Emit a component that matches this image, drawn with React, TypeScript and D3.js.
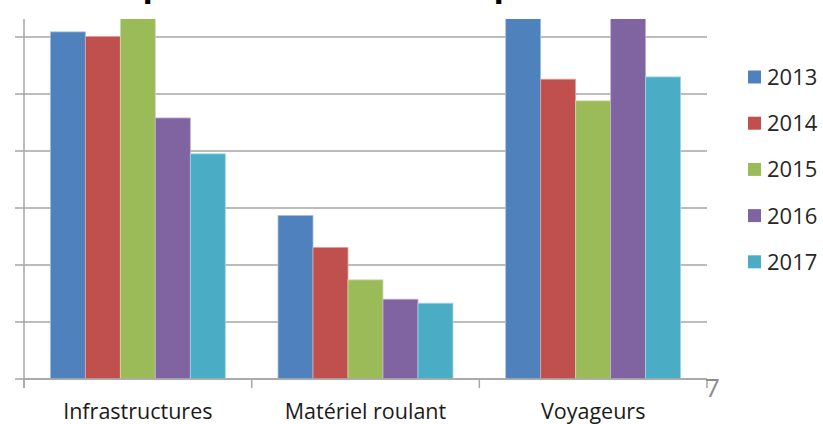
import React from "react";
import * as d3 from "d3";

const categories = ["Infrastructures", "Matériel roulant", "Voyageurs"];
const years = ["2013", "2014", "2015", "2016", "2017"];
// one array per year, in category order (units = one gridline)
const values2013 = [6.09, 2.87, 7.0];
const values2014 = [6.01, 2.31, 5.26];
const values2015 = [6.6, 1.74, 4.88];
const values2016 = [4.58, 1.4, 7.0];
const values2017 = [3.95, 1.33, 5.3];
const gridTicks = [0, 1, 2, 3, 4, 5, 6];

const seriesValues = [values2013, values2014, values2015, values2016, values2017];
const colors = ["#4F81BD", "#C0504D", "#9BBB59", "#8064A2", "#4BACC6"];
const borders = ["#a7c0de", "#dfa8a6", "#cddcac", "#bfb1d0", "#a5d5e2"];

const W = 823;
const H = 424;
const left = 24;
const right = 707;
const base = 379;
const top = 19;
const font = "Open Sans, sans-serif";

export default function App() {
  const x0 = d3.scaleBand<string>().domain(categories).range([left, right]);
  const x1 = d3
    .scaleBand<string>()
    .domain(years)
    .range([0, x0.bandwidth()])
    .paddingOuter(0.753);
  const y = d3.scaleLinear().domain([0, 6]).range([base, 37]);

  const catEdges = categories.map((c) => x0(c) ?? 0).concat([right]);

  return (
    <div style={{ position: "fixed", left: 0, top: 0 }}>
      <svg width={W} height={H} style={{ display: "block", background: "#fff" }}>
        <defs>
          <clipPath id="plot-clip">
            <rect x={left} y={top} width={right - left} height={base - top + 1} />
          </clipPath>
        </defs>

        {/* title, cut off above the picture: only descenders peek in */}
        <text
          x={89}
          y={-4}
          fontFamily={font}
          fontWeight="bold"
          fontSize={34}
          letterSpacing={4.1}
          fill="#000"
        >
          Dépenses des trois postes
        </text>

        {/* gridlines */}
        {gridTicks.map((t) => (
          <line key={t} x1={left - 9} x2={right} y1={y(t)} y2={y(t)} stroke="#a6a6a6" strokeWidth={1.5} />
        ))}

        {/* bars */}
        <g clipPath="url(#plot-clip)">
          {categories.map((c, ci) =>
            years.map((yr, si) => {
              const v = seriesValues[si][ci];
              const bx = (x0(c) ?? 0) + (x1(yr) ?? 0);
              return (
                <rect
                  key={c + yr}
                  x={bx}
                  y={y(v)}
                  width={x1.bandwidth()}
                  height={base - y(v)}
                  fill={colors[si]}
                  stroke={borders[si]}
                  strokeWidth={0.8}
                />
              );
            })
          )}
        </g>

        {/* axes */}
        <line x1={left} x2={left} y1={top} y2={base + 9} stroke="#a6a6a6" strokeWidth={1.5} />
        <line x1={left} x2={right} y1={base} y2={base} stroke="#a6a6a6" strokeWidth={1.5} />
        {catEdges.map((e, i) => (
          <line key={i} x1={e} x2={e} y1={base} y2={base + 9} stroke="#a6a6a6" strokeWidth={1.5} />
        ))}

        {categories.map((c) => (
          <text
            key={c}
            x={(x0(c) ?? 0) + x0.bandwidth() / 2}
            y={419}
            textAnchor="middle"
            fontFamily={font}
            fontSize={21.5}
            fill="#1a1a1a"
          >
            {c}
          </text>
        ))}

        {/* legend */}
        {years.map((yr, i) => (
          <g key={yr} transform={`translate(748, ${77 + i * 46.2})`}>
            <rect x={0} y={-6.5} width={13} height={13} fill={colors[i]} />
            <text x={19} y={8} fontFamily={font} fontSize={22} fill="#262626">
              {yr}
            </text>
          </g>
        ))}

        {/* slide number */}
        <text x={705} y={397} fontFamily={font} fontSize={26} fill="#8c8c8c">
          7
        </text>
      </svg>
    </div>
  );
}
